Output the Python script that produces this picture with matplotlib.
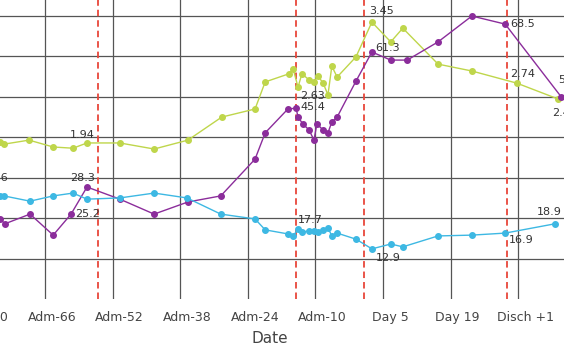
import matplotlib.pyplot as plt

# dates in days relative to admission, values on a normalised (grid) scale
green_x = [-75.3, -74.5, -69.3, -64.3, -60.2, -57.3, -50.5, -43.4, -36.4, -29.4, -22.5, -20.4,
           -15.5, -14.6, -13.6, -12.8, -11.3, -10.3, -9.5, -8.4, -7.4, -6.6, -5.5, -1.6,
           1.7, 5.6, 8.1, 15.4, 22.4, 31.7, 40.2]
green_y = [3.88, 3.83, 3.93, 3.76, 3.73, 3.86, 3.86, 3.71, 3.93, 4.50, 4.70, 5.37,
           5.57, 5.69, 5.24, 5.57, 5.42, 5.37, 5.52, 5.34, 5.05, 5.76, 5.49, 5.99,
           6.85, 6.36, 6.70, 5.81, 5.64, 5.34, 4.95]

purple_x = [-75.3, -74.3, -69.1, -64.3, -60.6, -57.3, -50.5, -43.4, -36.4, -29.6, -22.5, -20.4,
            -15.7, -14.0, -13.6, -12.6, -11.3, -10.3, -9.7, -8.4, -7.4, -6.6, -5.5, -1.6,
            1.7, 5.6, 9.0, 15.4, 22.4, 29.3, 40.9]
purple_y = [1.98, 1.86, 2.10, 1.58, 2.10, 2.77, 2.47, 2.10, 2.40, 2.55, 3.46, 4.11,
            4.70, 4.72, 4.50, 4.33, 4.18, 3.93, 4.33, 4.18, 4.11, 4.38, 4.50, 5.39,
            6.11, 5.91, 5.91, 6.36, 7.00, 6.80, 5.00]

cyan_x = [-75.3, -74.5, -69.1, -64.3, -60.2, -57.3, -50.5, -43.4, -36.6, -29.6, -22.5, -20.4,
          -15.7, -14.6, -13.6, -12.8, -11.3, -10.3, -9.5, -8.4, -7.4, -6.6, -5.5, -1.6,
          1.7, 5.6, 8.1, 15.4, 22.4, 29.3, 39.6]
cyan_y = [2.55, 2.55, 2.42, 2.55, 2.62, 2.47, 2.50, 2.62, 2.50, 2.10, 1.98, 1.71,
          1.61, 1.56, 1.73, 1.66, 1.68, 1.68, 1.66, 1.71, 1.76, 1.56, 1.63, 1.48,
          1.24, 1.36, 1.29, 1.56, 1.58, 1.63, 1.86]

events = [-55, -14, 0, 29.7]
tick_pos = [-80, -66, -52, -38, -24, -10, 4, 18, 32]
tick_labels = ['Adm-80', 'Adm-66', 'Adm-52', 'Adm-38', 'Adm-24', 'Adm-10', 'Day 5', 'Day 19', 'Disch +1']

# (series, point index, text, dx px, dy px)
labels = [
    ('g', 5, '1.94', -4.5, 8), ('p', 5, '28.3', -4.5, 9), ('p', 4, '25.2', 17, 0),
    ('g', 14, '2.63', 14.5, -9), ('p', 13, '45.4', 17, 1), ('c', 14, '17.7', 12.5, 9),
    ('g', 24, '3.45', 10, 11), ('p', 24, '61.3', 15.5, 4), ('c', 24, '12.9', 16, -9),
    ('p', 29, '68.5', 17, 0), ('g', 29, '2.74', 5.5, 9), ('c', 29, '16.9', 16, -7),
    ('c', 30, '18.9', -5.5, 12), ('p', 30, '50.7', 9, 17), ('g', 30, '2.48', 7, -14),
    ('c', 0, '25.6', -4.5, 18),
]

colors = {'g': '#bfd64b', 'p': '#8b2d9b', 'c': '#3db8e3'}
series = {'g': (green_x, green_y), 'p': (purple_x, purple_y), 'c': (cyan_x, cyan_y)}

fig = plt.figure(figsize=(5.64, 3.64), dpi=100)
ax = fig.add_axes([-0.0658, 0.1786, 1.0874, 0.844])

for k in ['g', 'p', 'c']:
    xs, ys = series[k]
    ax.plot(xs, ys, '-o', color=colors[k], lw=1, ms=4, zorder=3)

for e in events:
    ax.axvline(e, color='#e8463a', lw=1.3, linestyle=(0, (3.6, 2.2)), zorder=2)

for k, i, txt, dx, dy in labels:
    xs, ys = series[k]
    ax.annotate(txt, (xs[i], ys[i]), xytext=(dx, dy), textcoords='offset pixels',
                ha='center', va='center', fontsize=8, color='#333333', zorder=4)

ax.set_xlim(-83, 44)
ax.set_ylim(0, 7.6)
ax.set_yticks([1, 2, 3, 4, 5, 6, 7])
ax.set_xticks(tick_pos, minor=True)
ax.set_xticks([t + 1.45 for t in tick_pos])
ax.set_xticklabels(tick_labels)
ax.grid(True, which='minor', axis='x', color='#555555', lw=0.9)
ax.grid(True, which='major', axis='y', color='#555555', lw=0.9)
ax.tick_params(axis='x', which='both', length=0, pad=9, labelsize=9, labelcolor='#444444')
ax.tick_params(axis='y', length=0, labelleft=False)
for s in ax.spines.values():
    s.set_visible(False)
ax.set_xlabel('Date', fontsize=11, color='#444444', labelpad=5)

fig.savefig('out.png', dpi=100)
